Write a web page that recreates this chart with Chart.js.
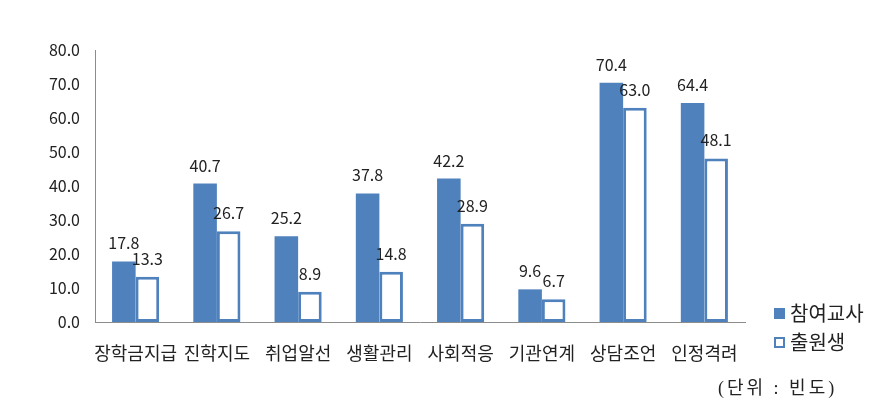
<!DOCTYPE html>
<html lang="ko">
<head>
<meta charset="utf-8">
<script src="https://cdn.jsdelivr.net/npm/chart.js@4.4.1/dist/chart.umd.min.js"></script>
<style>
  html, body { margin: 0; padding: 0; background: #fff; }
  #wrap { position: relative; width: 892px; height: 408px; }
  #nota {
    position: absolute; left: 718px; top: 373px;
    font-family: "Liberation Serif", "DejaVu Serif", "Noto Sans CJK KR", serif;
    font-size: 18px; letter-spacing: 3px; color: #222; white-space: nowrap;
  }
</style>
</head>
<body>
<div id="wrap">
  <canvas id="grafico" width="892" height="408"></canvas>
  <div id="nota">(단위 : 빈도)</div>
</div>
<script>
// Datos del gráfico
const categorias = ['장학금지급', '진학지도', '취업알선', '생활관리', '사회적응', '기관연계', '상담조언', '인정격려'];
const nombresSeries = ['참여교사', '출원생'];
const valoresDocentes = [17.8, 40.7, 25.2, 37.8, 42.2, 9.6, 70.4, 64.4];
const valoresEgresados = [13.3, 26.7, 8.9, 14.8, 28.9, 6.7, 63.0, 48.1];
const ticksY = [0, 10, 20, 30, 40, 50, 60, 70, 80];

const azul = '#4f81bd';
const fuente = '"Noto Sans CJK KR", "Noto Sans", sans-serif';

// Etiquetas de valor encima de cada barra
const etiquetasBarras = {
  id: 'etiquetasBarras',
  afterDatasetsDraw(chart) {
    const ctx = chart.ctx;
    ctx.save();
    ctx.font = '16px ' + fuente;
    ctx.fillStyle = '#222';
    ctx.textAlign = 'center';
    ctx.textBaseline = 'alphabetic';
    chart.data.datasets.forEach((ds, i) => {
      chart.getDatasetMeta(i).data.forEach((bar, j) => {
        ctx.fillText(ds.data[j].toFixed(1), bar.x, bar.y - 12);
      });
    });
    ctx.restore();
  }
};

// Leyenda a la derecha, abajo
const leyendaDerecha = {
  id: 'leyendaDerecha',
  afterDraw(chart) {
    const ctx = chart.ctx;
    ctx.save();
    ctx.font = '20px ' + fuente;
    ctx.textBaseline = 'middle';
    ctx.textAlign = 'left';
    chart.data.datasets.forEach((ds, i) => {
      const y = 308 + i * 29;
      if (i === 0) {
        ctx.fillStyle = azul;
        ctx.fillRect(774, y, 11, 11);
      } else {
        ctx.strokeStyle = azul;
        ctx.lineWidth = 2;
        ctx.strokeRect(775, y + 1, 9, 9);
      }
      ctx.fillStyle = '#222';
      ctx.fillText(ds.label, 790, y + 5);
    });
    ctx.restore();
  }
};

new Chart(document.getElementById('grafico'), {
  type: 'bar',
  data: {
    labels: categorias,
    datasets: [
      {
        label: nombresSeries[0],
        data: valoresDocentes,
        backgroundColor: azul,
        borderWidth: 0,
        categoryPercentage: 0.58,
        barPercentage: 1
      },
      {
        label: nombresSeries[1],
        data: valoresEgresados,
        backgroundColor: '#fff',
        borderColor: azul,
        borderWidth: 3,
        borderSkipped: false,
        categoryPercentage: 0.58,
        barPercentage: 1
      }
    ]
  },
  options: {
    responsive: false,
    devicePixelRatio: 1,
    animation: false,
    layout: { padding: { top: 50, right: 147, bottom: 0, left: 0 } },
    plugins: {
      legend: { display: false },
      tooltip: { enabled: false }
    },
    scales: {
      x: {
        grid: { display: false, drawTicks: false },
        border: { display: true, color: '#8c8c8c', width: 1 },
        ticks: { color: '#222', font: { family: fuente, size: 18 }, padding: 20, maxRotation: 0, autoSkip: false },
        afterFit(scale) { scale.height = 86; }
      },
      y: {
        min: 0,
        max: 80,
        grid: { display: false, drawTicks: false },
        border: { display: true, color: '#8c8c8c', width: 1 },
        afterBuildTicks(scale) { scale.ticks = ticksY.map(v => ({ value: v })); },
        ticks: {
          color: '#222',
          font: { family: fuente, size: 16 },
          padding: 15,
          callback: v => Number(v).toFixed(1)
        },
        afterFit(scale) { scale.width = 95; }
      }
    }
  },
  plugins: [etiquetasBarras, leyendaDerecha]
});
</script>
</body>
</html>
